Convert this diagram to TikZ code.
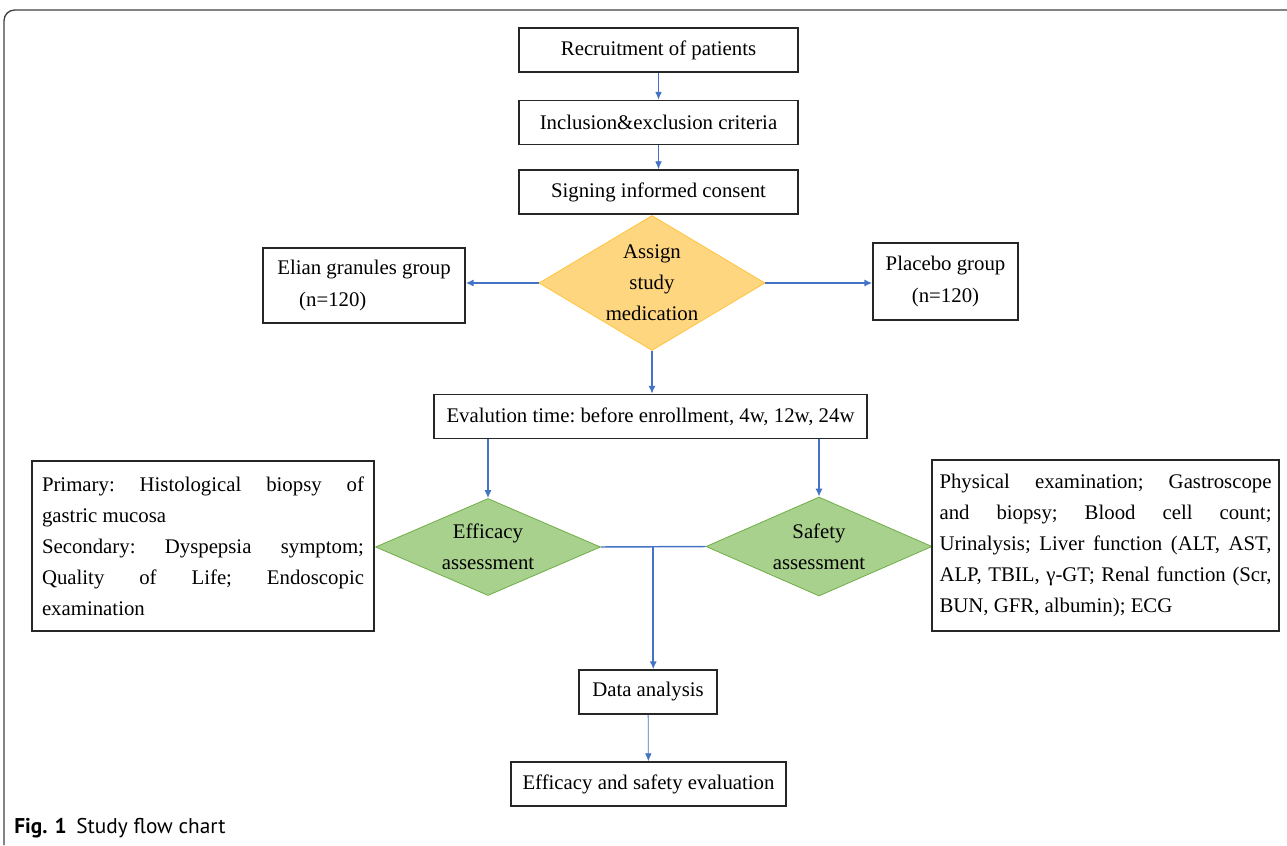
\documentclass[tikz,border=0pt]{standalone}
\usepackage{fontspec}
\setmainfont{Liberation Serif}
\newfontfamily\capfont{PT Sans}
\usepackage{xcolor}
\usepackage{tikz}
\usetikzlibrary{positioning}
\usetikzlibrary{arrows,arrows.meta,shapes}
\usetikzlibrary{calc}
\definecolor{flowblue}{RGB}{68,114,196}
\definecolor{goldfill}{RGB}{255,214,128}
\definecolor{golddraw}{RGB}{255,195,60}
\definecolor{greenfill}{RGB}{169,209,142}
\definecolor{greendraw}{RGB}{112,173,71}
\tikzstyle{box}=[rectangle,draw=black!85,line width=1.1pt,inner sep=0pt,align=center,minimum height=33pt]
\tikzstyle{textbox}=[rectangle,draw=black!85,line width=1.1pt,inner ysep=0pt,align=justify]
\tikzstyle{decision}=[diamond,inner sep=0pt,align=center]
\tikzstyle{edge}=[draw,flowblue,line width=1.4pt,-{Latex[length=6pt,width=5.5pt]}]
\tikzstyle{thinedge}=[draw,flowblue,line width=0.6pt,-{Latex[length=6pt,width=5pt]}]
\tikzstyle{link}=[draw,flowblue,line width=1.1pt]
\newcommand{\zw}[1]{\makebox[0pt]{#1}}

\begin{document}
\begin{tikzpicture}[x=0.75pt,y=-0.75pt,font=\fontsize{15.6}{23.3}\selectfont\frenchspacing]

 \useasboundingbox (0,0) rectangle (1287,845);

 % frame
 \draw[black!75, line width=1pt, rounded corners=8pt] (4,845) -- (4,10) -- (1287,10);

 % plain boxes
 \foreach \x/\y/\w/\name/\label in {658.5/50/209.25pt/recruit/{Recruitment of patients},
                                    658.5/122.5/209.25pt/incl/{Inclusion\&exclusion criteria},
                                    658.5/192/209.25pt/consent/{Signing informed consent},
                                    650.5/416.5/324.75pt/eval/{Evalution time: before enrollment, 4w, 12w, 24w},
                                    648/692/103.5pt/da/{Data analysis},
                                    648.5/784/206.25pt/final/{Efficacy and safety evaluation}}
        \node[box, minimum width=\w] (\name) at (\x,\y) {\label};

 % groups
 \node[box, align=left, minimum width=151.5pt, minimum height=56.25pt] (elian) at (364,285.5)
      {Elian granules group\\\hspace*{1.05em}(n=120)};
 \node[box, minimum width=108.75pt, minimum height=57.75pt] (placebo) at (945.5,281.5)
      {Placebo group\\(n=120)};

 % decisions
 \node[decision, fill=goldfill, draw=golddraw, line width=0.6pt, minimum width=169.5pt, minimum height=101.25pt] (assign) at (652,283)
      {\zw{Assign}\\\zw{study}\\\zw{medication}};
 \node[decision, fill=greenfill, draw=greendraw, line width=0.6pt, minimum width=168.75pt, minimum height=72.75pt] (eff) at (488,547)
      {\zw{Efficacy}\\\zw{assessment}};
 \node[decision, fill=greenfill, draw=greendraw, line width=0.6pt, minimum width=169.5pt, minimum height=74.25pt] (safe) at (819,546.5)
      {\zw{Safety}\\\zw{assessment}};

 % outcome lists
 \node[textbox, text width=241.5pt, inner xsep=7.5pt, minimum height=127.5pt] (primary) at (203,546)
      {Primary: Histological biopsy of\linebreak gastric mucosa\\
       Secondary: Dyspepsia symptom;\linebreak Quality of Life; Endoscopic\linebreak examination};
 \node[textbox, text width=249pt, inner xsep=5.6pt, minimum height=128.25pt] (physical) at (1105.5,545.5)
      {Physical examination; Gastroscope\linebreak and biopsy; Blood cell count;\linebreak
       Urinalysis; Liver function (ALT, AST,\linebreak ALP, TBIL, γ-GT; Renal function (Scr,\linebreak
       BUN, GFR, albumin); ECG};

 % caption
 \node[anchor=west, inner sep=0pt, font=\capfont\fontsize{16}{19}\selectfont] (caption) at (14,828)
      {\textbf{Fig. 1}\hspace{0.45em}Study flow chart};

 % connectors
 \foreach \source/ \dest in {recruit/incl, incl/consent, da/final}
        \path[thinedge] (\source) -- (\dest);

 \path[edge] (assign.west) -- (assign.west -| elian.east);
 \path[edge] (assign.east) -- (assign.east -| placebo.west);
 \path[edge] (assign.south) -- (assign.south |- eval.north);
 \path[edge] (eff.north |- eval.south) -- (eff.north);
 \path[edge] (safe.north |- eval.south) -- (safe.north);

 \path[link] (eff.east) -- (safe.west);
 \coordinate (join) at ($(eff.east)!0.5!(safe.west)$);
 \path[edge] (join) -- (join |- da.north);

\end{tikzpicture}
\end{document}
